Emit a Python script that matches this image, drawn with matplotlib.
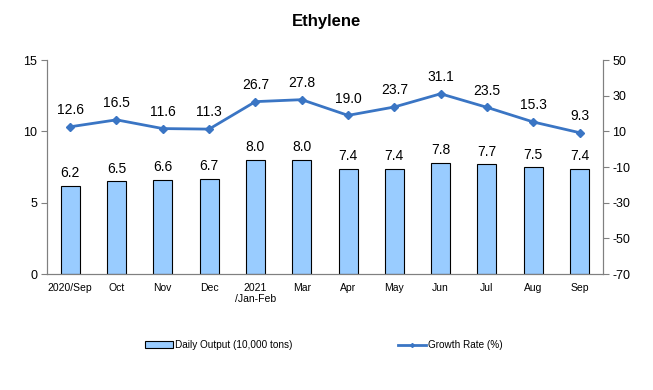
import numpy as np
import matplotlib
matplotlib.use('Agg')
import matplotlib.pyplot as plt
from matplotlib.patches import Patch
from matplotlib.lines import Line2D

months = ['2020/Sep', 'Oct', 'Nov', 'Dec', '2021\n/Jan-Feb', 'Mar',
          'Apr', 'May', 'Jun', 'Jul', 'Aug', 'Sep']
daily_output = [6.2, 6.5, 6.6, 6.7, 8.0, 8.0, 7.4, 7.4, 7.8, 7.7, 7.5, 7.4]
growth_rate = [12.6, 16.5, 11.6, 11.3, 26.7, 27.8, 19.0, 23.7, 31.1, 23.5, 15.3, 9.3]

plt.rcParams['font.family'] = ['Liberation Sans', 'DejaVu Sans']
plt.rcParams['axes.unicode_minus'] = False

bar_color = '#99CCFF'
line_color = '#3A75C4'
axis_color = '#808080'

fig = plt.figure(figsize=(6.53, 3.9), dpi=100)
ax = fig.add_axes([0.072, 0.297, 0.851, 0.549])
ax2 = ax.twinx()

x = np.arange(len(months))
ax.bar(x, daily_output, width=0.41, color=bar_color, edgecolor='black', linewidth=0.8, zorder=2)
for xi, v in zip(x, daily_output):
    ax.annotate(f'{v:.1f}', (xi, v), xytext=(0, 4), textcoords='offset points',
                ha='center', va='bottom', fontsize=10)

ax2.plot(x, growth_rate, color=line_color, linewidth=2, marker='D', markersize=4.5, zorder=3)
for xi, v in zip(x, growth_rate):
    ax2.annotate(f'{v:.1f}', (xi, v), xytext=(0, 7), textcoords='offset points',
                 ha='center', va='bottom', fontsize=10)

ax.set_xlim(-0.5, len(months) - 0.5)
ax.set_ylim(0, 15)
ax.set_yticks([0, 5, 10, 15])
ax2.set_ylim(-70, 50)
ax2.set_yticks([-70, -50, -30, -10, 10, 30, 50])

ax.set_xticks(x)
ax.set_xticklabels(months, fontsize=7.5)
ax.tick_params(axis='x', length=0, pad=6)
ax.tick_params(axis='y', labelsize=9, length=4, color=axis_color, pad=3)
ax2.tick_params(axis='y', labelsize=9, length=4, color=axis_color, pad=3)

for a in (ax, ax2):
    a.spines['top'].set_visible(False)
    a.spines['left'].set_color(axis_color)
    a.spines['right'].set_color(axis_color)
    a.spines['bottom'].set_color(axis_color)

fig.text(0.5, 0.945, 'Ethylene', ha='center', va='center', fontsize=12, fontweight='bold')

handles = [Patch(facecolor=bar_color, edgecolor='black', linewidth=0.8),
           Line2D([0], [0], color=line_color, linewidth=2, marker='D', markersize=2)]
labels = ['Daily Output (10,000 tons)', 'Growth Rate (%)']
fig.legend(handles, labels, loc='center', bbox_to_anchor=(0.496, 0.115), ncol=2,
           frameon=False, fontsize=7.2, columnspacing=10.5, handlelength=2.8,
           handleheight=0.6, handletextpad=0.2)

fig.savefig('out.png', dpi=100)
